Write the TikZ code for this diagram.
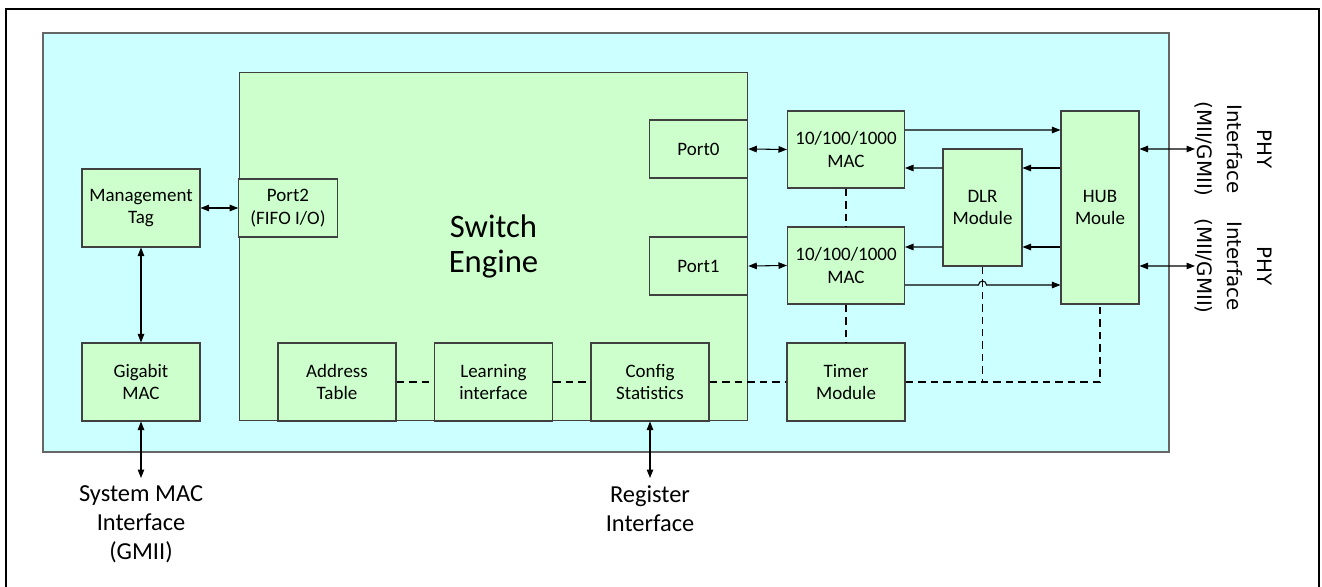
\documentclass[tikz,border=0pt]{standalone}
\usepackage{fontspec}
\setmainfont{Carlito}
\newfontfamily\verdf{DejaVu Sans}
\usetikzlibrary{arrows.meta}
\definecolor{blkc}{HTML}{CCFFCC}
\definecolor{chipc}{HTML}{CCFFFF}
\definecolor{edgec}{HTML}{404040}

\begin{document}
\begin{tikzpicture}[x=0.02cm, y=-0.02cm, >={Triangle[length=0.17cm, width=0.13cm]},
  blk/.style={draw=edgec, fill=blkc, line width=0.6pt, align=center, inner sep=0pt,
    font=\fontsize{10.8}{13}\selectfont},
  sbox/.style={blk, minimum width=2.36cm, minimum height=1.56cm},
  pbox/.style={blk, minimum width=1.97cm, minimum height=1.16cm},
  conn/.style={line width=0.6pt},
  dsh/.style={line width=0.6pt, dash pattern=on 0.15cm off 0.1cm},
  ext/.style={align=center, inner sep=0.15cm, font=\fontsize{13.9}{16.4}\selectfont},
  phy/.style={align=center, inner sep=0pt, rotate=-90, font=\verdf\fontsize{11.3}{17}\selectfont}]
  \useasboundingbox (0,0) rectangle (1322,587);

  % frame (bottom edge is cut off) and chip area
  \draw[line width=1.2pt] (6,587) |- (1319,9) -- (1319,587);
  \draw[draw=edgec!80, fill=chipc, line width=0.6pt] (43,33) rectangle (1169,452);

  % switch engine and its blocks
  \node[blk, minimum width=10.18cm, minimum height=6.98cm, font=\fontsize{18.6}{20.4}\selectfont] (sw) at (493.5,246.5) {Switch\\Engine};
  \node[pbox] (port2) at (288,208) {Port2\\(FIFO I/O)};
  \node[pbox] (port0) at (698.5,149) {Port0};
  \node[pbox] (port1) at (698.5,266) {Port1};
  \node[sbox] (addr) at (337,382) {Address\\Table};
  \node[sbox] (learn) at (493.5,382) {Learning\\interface};
  \node[sbox] (cfg) at (650,382) {Config\\Statistics};

  % left side
  \node[sbox] (mtag) at (141,208) {Management\\Tag};
  \node[sbox] (gmac) at (141,382) {Gigabit\\MAC};

  % right side
  \node[blk, minimum width=2.34cm, minimum height=1.54cm] (mac0) at (846,149.5) {10/100/1000\\MAC};
  \node[blk, minimum width=2.34cm, minimum height=1.54cm] (mac1) at (846,265.5) {10/100/1000\\MAC};
  \node[sbox] (timer) at (846,382) {Timer\\Module};
  \node[blk, minimum width=1.58cm, minimum height=2.34cm] (dlr) at (982.5,207.5) {DLR\\Module};
  \node[blk, minimum width=1.56cm, minimum height=3.86cm] (hub) at (1100,207.5) {HUB\\Moule};

  % outside interfaces
  \node[ext, anchor=north] (sysmac) at (141,478) {System MAC\\Interface\\(GMII)};
  \node[ext, anchor=north] (regif) at (650,478) {Register\\Interface};
  \node[phy, anchor=south] (phy0) at (1195,149) {PHY\\Interface\\(MII/GMII)};
  \node[phy, anchor=south] (phy1) at (1195,266) {PHY\\Interface\\(MII/GMII)};

  % data paths
  \draw[conn, <->] (mtag.east) -- (port2.west);
  \draw[conn, <->] (mtag.south) -- (gmac.north);
  \draw[conn, <->] (gmac.south) -- (sysmac.north);
  \draw[conn, <->] (cfg.south) -- (regif.north);
  \draw[conn, <->] (port0.east) -- (mac0.west);
  \draw[conn, <->] (port1.east) -- (mac1.west);
  \draw[conn, ->] ([yshift=0.39cm]mac0.east) -- ([yshift=1.55cm]hub.west);
  \draw[conn, ->] ([yshift=0.79cm]hub.west) -- ([yshift=0.79cm]dlr.east);
  \draw[conn, ->] ([yshift=0.79cm]dlr.west) -- ([yshift=-0.37cm]mac0.east);
  \draw[conn, ->] ([yshift=-0.79cm]hub.west) -- ([yshift=-0.79cm]dlr.east);
  \draw[conn, ->] ([yshift=-0.79cm]dlr.west) -- ([yshift=0.37cm]mac1.east);
  \coordinate (h1) at ([yshift=-0.39cm]mac1.east);
  \coordinate (hop) at (h1 -| dlr.south);
  \draw[conn, ->] (h1) -- ([xshift=-0.08cm]hop) arc[start angle=180, end angle=0, radius=0.08cm] -- (h1 -| hub.west);
  \draw[conn, <->] ([yshift=1.17cm]hub.east) -- (phy0.south);
  \draw[conn, <->] ([yshift=-1.17cm]hub.east) -- (phy1.south);

  % control links
  \draw[dsh] (mac0.south) -- (mac1.north);
  \draw[dsh] (mac1.south) -- (timer.north);
  \draw[dsh] (addr.east) -- (learn.west);
  \draw[dsh] (learn.east) -- (cfg.west);
  \draw[dsh] (cfg.east) -- (timer.west);
  \draw[dsh] (timer.east) -| (hub.south);
  \draw[dsh] (dlr.south) -- (dlr.south |- timer.east);
\end{tikzpicture}
\end{document}
